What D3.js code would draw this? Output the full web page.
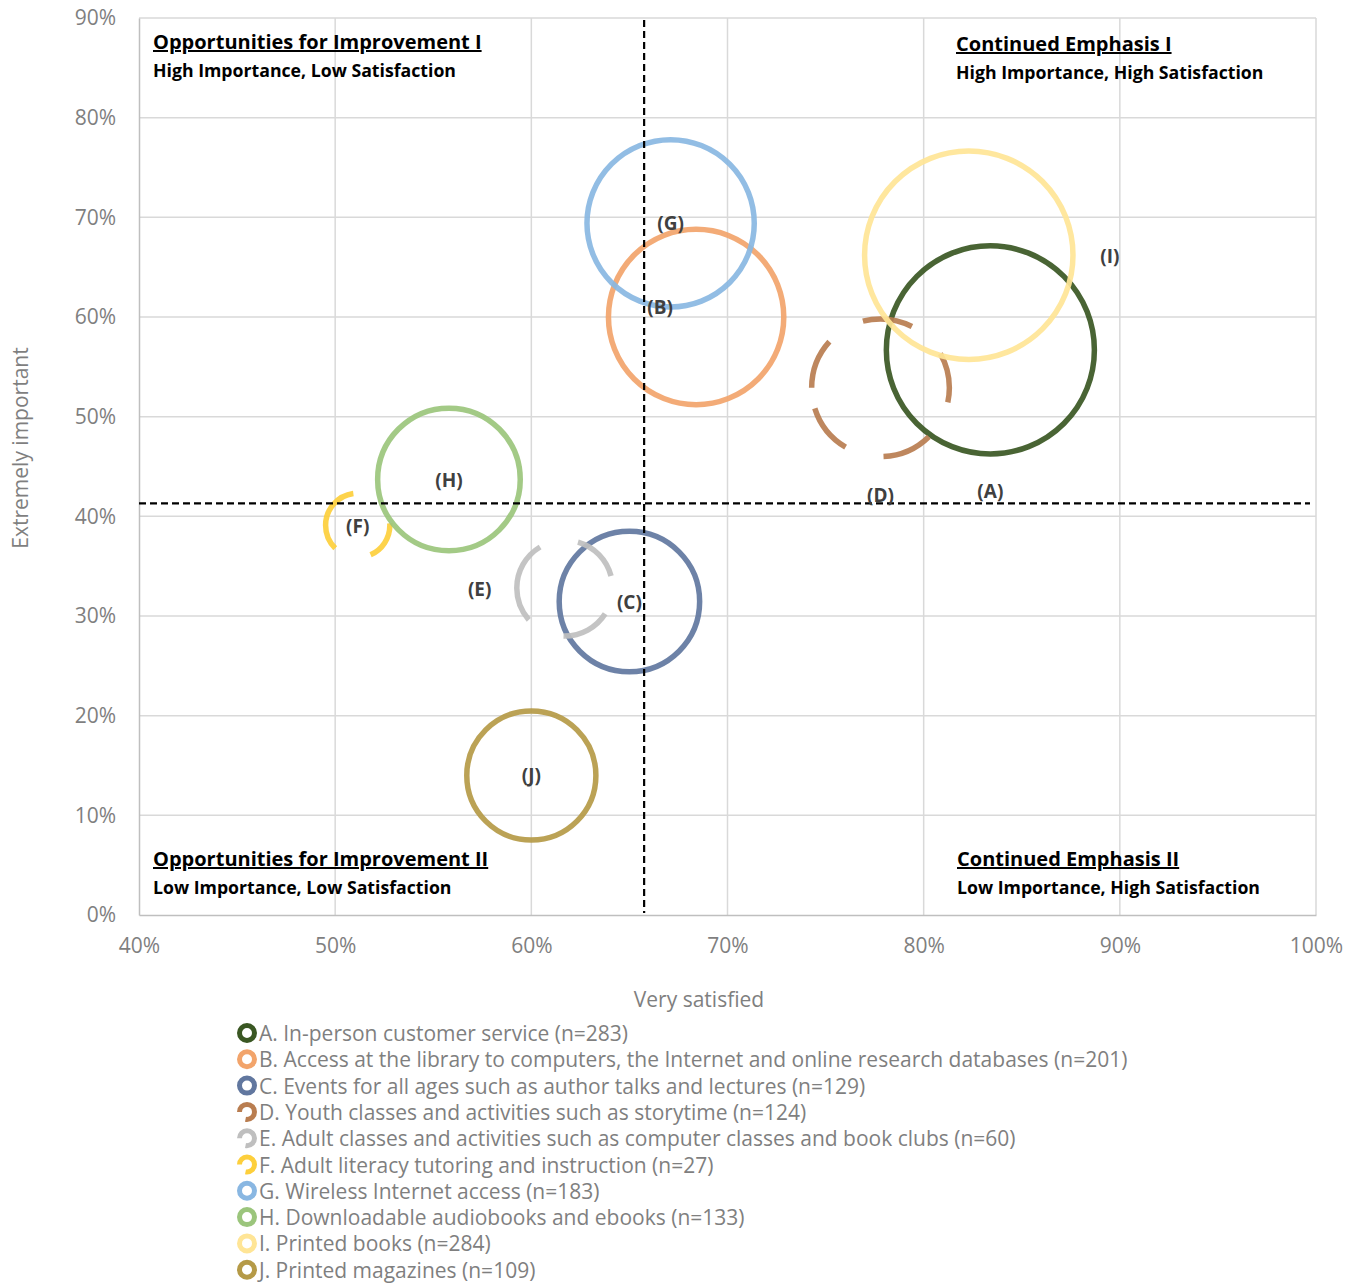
<!DOCTYPE html>
<html>
<head>
<meta charset="utf-8">
<script src="https://cdn.jsdelivr.net/npm/d3@7"></script>
<style>
  html, body { margin: 0; padding: 0; background: #fff; }
  svg { display: block; font-family: "Open Sans", "Noto Sans", sans-serif; }
</style>
</head>
<body>
<svg id="chart" width="1356" height="1284"></svg>
<script>
// Library services: share "very satisfied" (x) vs share "extremely important" (y), bubble size = respondents
const codes = ["A", "B", "C", "D", "E", "F", "G", "H", "I", "J"];
const names = [
  "In-person customer service",
  "Access at the library to computers, the Internet and online research databases",
  "Events for all ages such as author talks and lectures",
  "Youth classes and activities such as storytime",
  "Adult classes and activities such as computer classes and book clubs",
  "Adult literacy tutoring and instruction",
  "Wireless Internet access",
  "Downloadable audiobooks and ebooks",
  "Printed books",
  "Printed magazines"
];
const satisfied = [0.834, 0.684, 0.650, 0.778, 0.617, 0.5115, 0.671, 0.558, 0.823, 0.600];
const important = [0.567, 0.600, 0.3145, 0.529, 0.328, 0.391, 0.694, 0.437, 0.662, 0.140];
const respondents = [283, 201, 129, 124, 60, 27, 183, 133, 284, 109];

// quadrant dividers (averages)
const avgSatisfied = 0.6575;
const avgImportant = 0.413;

const xTicks = [0.4, 0.5, 0.6, 0.7, 0.8, 0.9, 1.0];
const yTicks = [0, 0.1, 0.2, 0.3, 0.4, 0.5, 0.6, 0.7, 0.8, 0.9];

const quadrantTitles = ["Opportunities for Improvement I", "Continued Emphasis I",
                        "Opportunities for Improvement II", "Continued Emphasis II"];
const quadrantNotes = ["High Importance, Low Satisfaction", "High Importance, High Satisfaction",
                       "Low Importance, Low Satisfaction", "Low Importance, High Satisfaction"];

// ---- styling / layout ----
const colors = ["#3a5723", "#f2a46b", "#61779f", "#b97d50", "#bfbfbf",
                "#fdcf3c", "#89b7e2", "#9bc57c", "#ffe596", "#b59a47"];
// dash patterns in degrees of arc, starting from the left point of each ring
const dashDeg = [null, null, null, [42, 33], [59, 47], [82, 94, 70, 68], null, null, null, null];
// data-label nudges (px) from the bubble centre
const labelNudge = [[0, 141], [-36, -10], [0, 0], [0, 107], [-85, 1],
                    [0, 1], [0, 0], [0, 1], [141, 1], [0, 0]];

const svg = d3.select("#chart");
const plotLeft = 139, plotRight = 1316, plotTop = 18, plotBottom = 915;

const x = d3.scaleLinear().domain([0.4, 1.0]).range([plotLeft, plotRight]);
const y = d3.scaleLinear().domain([0, 0.9]).range([plotBottom, plotTop]);
const r = d3.scaleSqrt().domain([0, 284]).range([0, 104.2]);

const pct = d3.format(".0%");

// gridlines
const grid = svg.append("g");
grid.selectAll("line.h").data(yTicks.slice(1)).join("line")
  .attr("x1", plotLeft).attr("x2", plotRight)
  .attr("y1", d => y(d)).attr("y2", d => y(d))
  .attr("stroke", "#d9d9d9").attr("stroke-width", 1.5);
grid.selectAll("line.v").data(xTicks.slice(1)).join("line")
  .attr("y1", plotTop).attr("y2", plotBottom)
  .attr("x1", d => x(d)).attr("x2", d => x(d))
  .attr("stroke", "#d9d9d9").attr("stroke-width", 1.5);

// axes
const xAxis = svg.append("g").attr("transform", `translate(0,${plotBottom})`)
  .call(d3.axisBottom(x).tickValues(xTicks).tickFormat(pct).tickSize(0).tickPadding(23));
const yAxis = svg.append("g").attr("transform", `translate(${plotLeft},0)`)
  .call(d3.axisLeft(y).tickValues(yTicks).tickFormat(pct).tickSize(0).tickPadding(23));
[xAxis, yAxis].forEach(a => {
  a.select(".domain").attr("stroke", "#bfbfbf").attr("stroke-width", 1.5);
  a.selectAll("text").attr("fill", "#7f7f7f").style("font-size", "21px")
    .style("font-family", "'Open Sans', sans-serif");
});

svg.append("text").attr("x", 699).attr("y", 1007).attr("text-anchor", "middle")
  .attr("fill", "#7f7f7f").style("font-size", "21px").text("Very satisfied");
svg.append("text").attr("transform", "translate(28,448) rotate(-90)").attr("text-anchor", "middle")
  .attr("fill", "#7f7f7f").style("font-size", "21px").text("Extremely important");

// quadrant captions
const qPos = [[153, 49], [956, 51], [153, 866], [957, 866]];
quadrantTitles.forEach((t, i) => {
  const g = svg.append("g").attr("transform", `translate(${qPos[i][0]},${qPos[i][1]})`);
  g.append("text").attr("fill", "#000").style("font-size", "20px").style("font-weight", 700)
    .style("text-decoration", "underline").text(t);
  g.append("text").attr("y", 28).attr("fill", "#000").style("font-size", "17.7px")
    .style("font-weight", 700).text(quadrantNotes[i]);
});

// bubbles (rings)
const data = codes.map((c, i) => ({
  code: c, name: names[i], sx: satisfied[i], iy: important[i], n: respondents[i],
  color: colors[i], dash: dashDeg[i], nudge: labelNudge[i]
}));

const degToPx = (deg, rad) => deg * Math.PI / 180 * rad;

svg.append("g").selectAll("circle").data(data).join("circle")
  .attr("cx", d => x(d.sx)).attr("cy", d => y(d.iy)).attr("r", d => r(d.n))
  .attr("transform", d => `rotate(180,${x(d.sx)},${y(d.iy)})`)
  .attr("fill", "none").attr("stroke", d => d.color).attr("stroke-width", 5.5)
  .attr("stroke-opacity", 0.92)
  .attr("stroke-dasharray", d => d.dash ? d.dash.map(v => degToPx(v, r(d.n)).toFixed(2)).join(" ") : null);

// quadrant divider lines
svg.append("line").attr("x1", x(avgSatisfied)).attr("x2", x(avgSatisfied))
  .attr("y1", plotTop + 2).attr("y2", plotBottom - 2)
  .attr("stroke", "#000").attr("stroke-width", 2.2).attr("stroke-dasharray", "7 4");
svg.append("line").attr("x1", plotLeft).attr("x2", plotRight - 6)
  .attr("y1", y(avgImportant)).attr("y2", y(avgImportant))
  .attr("stroke", "#000").attr("stroke-width", 2.2).attr("stroke-dasharray", "7 4");

// data labels
svg.append("g").selectAll("text").data(data).join("text")
  .attr("x", d => x(d.sx) + d.nudge[0]).attr("y", d => y(d.iy) + d.nudge[1])
  .attr("text-anchor", "middle").attr("dominant-baseline", "central")
  .attr("fill", "#404040").style("font-size", "19px").style("font-weight", 700)
  .text(d => `(${d.code})`);

// legend
const legend = svg.append("g").attr("transform", "translate(247,1033)");
const rows = legend.selectAll("g").data(data).join("g")
  .attr("transform", (d, i) => `translate(0,${i * 26.3})`);
rows.append("circle").attr("r", 7.5).attr("fill", "none")
  .attr("stroke", d => d.color).attr("stroke-width", 5)
  .attr("transform", "rotate(180)")
  .attr("stroke-dasharray", d => d.dash ? `${degToPx(280, 7.5).toFixed(2)} ${degToPx(80, 7.5).toFixed(2)}` : null);
rows.append("text").attr("x", 12).attr("dominant-baseline", "central")
  .attr("fill", "#7f7f7f").style("font-size", "21px")
  .text(d => `${d.code}. ${d.name} (n=${d.n})`);
</script>
</body>
</html>
